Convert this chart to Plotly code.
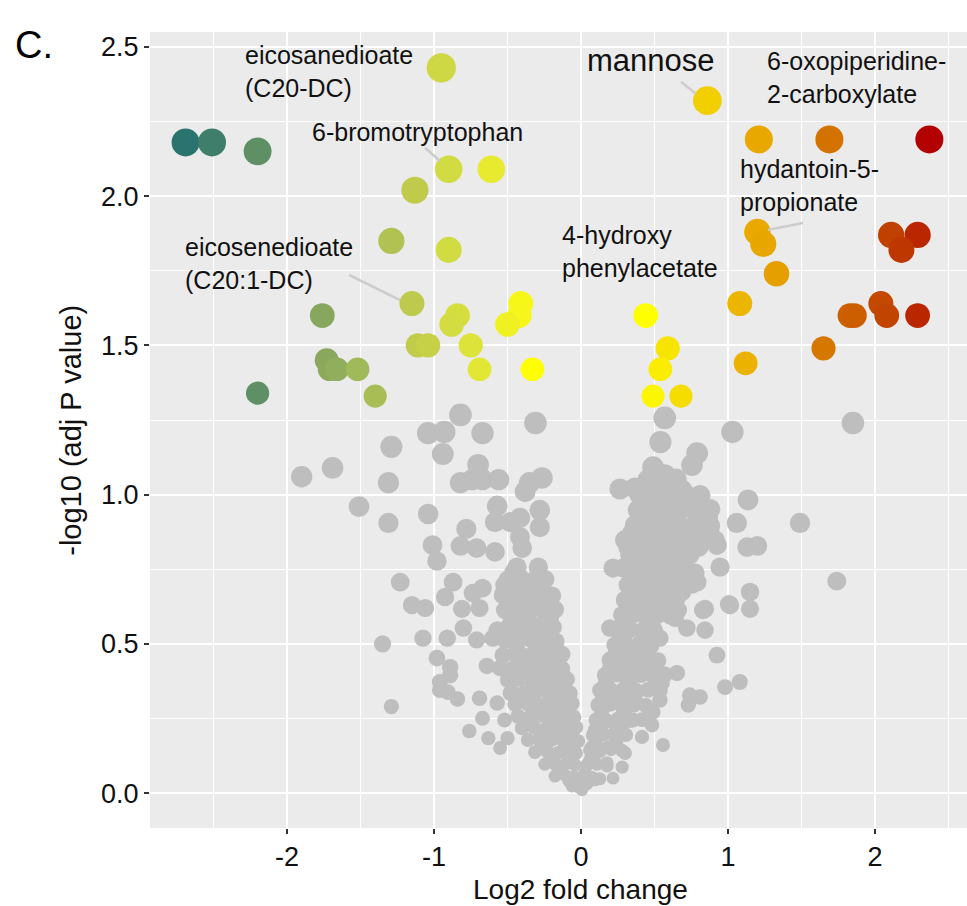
import math
import plotly.graph_objects as go

# ---- significant metabolites: log2 fold change and -log10(adj p) ----
sig_fc = [-2.69, -2.51, -2.20, -2.20, -1.76, -1.73, -1.71, -1.66, -1.52, -1.40,
          -1.29, -1.13, -1.15, -1.11, -1.04, -0.95, -0.90, -0.61, -0.90, -0.84,
          -0.88, -0.75, -0.69, -0.41, -0.42, -0.50, -0.33, 0.44, 0.59, 0.54,
          0.49, 0.68, 0.86, 1.21, 1.69, 2.37, 1.20, 1.24, 1.33, 2.11,
          2.29, 2.18, 1.08, 1.12, 1.65, 1.83, 1.86, 2.04, 2.08, 2.29]
sig_p = [2.18, 2.18, 2.15, 1.34, 1.60, 1.45, 1.42, 1.42, 1.42, 1.33,
         1.85, 2.02, 1.64, 1.50, 1.50, 2.43, 2.09, 2.09, 1.82, 1.60,
         1.57, 1.50, 1.42, 1.64, 1.60, 1.57, 1.42, 1.60, 1.49, 1.42,
         1.33, 1.33, 2.32, 2.19, 2.19, 2.19, 1.88, 1.84, 1.74, 1.87,
         1.87, 1.82, 1.64, 1.44, 1.49, 1.60, 1.60, 1.64, 1.60, 1.60]

# ---- non-significant metabolites (log2 FC, -log10 adj p) ----
grey_left = [(-1.90, 1.06), (-1.69, 1.09), (-1.29, 1.16), (-1.31, 1.04), (-1.51, 0.96),
             (-1.31, 0.905), (-1.04, 0.935), (-1.23, 0.707), (-1.15, 0.63), (-1.06, 0.62),
             (-1.35, 0.50), (-1.29, 0.29), (-0.82, 1.267), (-1.04, 1.206), (-0.93, 1.21),
             (-0.67, 1.206), (-0.94, 1.136), (-0.31, 1.24), (-0.70, 1.10), (-0.82, 1.04),
             (-0.74, 1.05), (-0.67, 1.05), (-0.56, 1.05), (-0.265, 1.056), (-0.35, 1.04),
             (-0.38, 1.01), (-0.57, 0.962), (-0.585, 0.908), (-0.48, 0.908), (-0.415, 0.922),
             (-0.28, 0.948), (-0.28, 0.891), (-0.415, 0.858), (-0.40, 0.821), (-0.78, 0.885),
             (-0.82, 0.828), (-0.71, 0.821), (-0.585, 0.808), (-1.01, 0.831), (-0.98, 0.777),
             (-0.435, 0.757), (-0.29, 0.757), (-0.87, 0.707), (-0.925, 0.657), (-0.67, 0.687),
             (-0.735, 0.67), (-0.52, 0.697), (-0.38, 0.707), (-0.30, 0.67), (-0.435, 0.657),
             (-0.81, 0.617), (-0.69, 0.62), (-0.47, 0.623), (-0.35, 0.613), (-0.245, 0.62),
             (-0.19, 0.556), (-1.075, 0.519), (-0.91, 0.519), (-0.80, 0.553), (-0.71, 0.513),
             (-0.57, 0.546), (-0.60, 0.519), (-0.415, 0.536), (-0.30, 0.536), (-0.435, 0.479),
             (-0.26, 0.489), (-0.156, 0.442), (-0.98, 0.452), (-0.89, 0.422), (-0.89, 0.395),
             (-0.64, 0.426), (-0.96, 0.372), (-0.96, 0.345), (-0.84, 0.315), (-0.905, 0.338),
             (-0.69, 0.318), (-0.57, 0.302), (-0.67, 0.251), (-0.76, 0.208), (-0.63, 0.184),
             (-0.55, 0.151), (-0.50, 0.184), (-0.52, 0.245), (-0.43, 0.385), (-0.48, 0.335)]

grey_left_core = [(-0.497, 0.714), (-0.415, 0.720), (-0.333, 0.709), (-0.245, 0.716),
                  (-0.531, 0.664), (-0.449, 0.668), (-0.361, 0.660), (-0.279, 0.666), (-0.197, 0.661),
                  (-0.517, 0.613), (-0.429, 0.609), (-0.347, 0.618), (-0.259, 0.611), (-0.177, 0.615),
                  (-0.483, 0.563), (-0.401, 0.567), (-0.313, 0.560), (-0.224, 0.565),
                  (-0.517, 0.513), (-0.435, 0.509), (-0.347, 0.517), (-0.259, 0.512), (-0.170, 0.508),
                  (-0.531, 0.462), (-0.449, 0.466), (-0.361, 0.458), (-0.279, 0.463), (-0.197, 0.460), (-0.129, 0.465),
                  (-0.551, 0.419), (-0.469, 0.415), (-0.381, 0.422), (-0.299, 0.417), (-0.211, 0.421), (-0.129, 0.416),
                  (-0.497, 0.379), (-0.415, 0.383), (-0.333, 0.376), (-0.245, 0.380), (-0.163, 0.377), (-0.095, 0.381),
                  (-0.469, 0.338), (-0.388, 0.335), (-0.306, 0.341), (-0.224, 0.336), (-0.143, 0.339), (-0.075, 0.334),
                  (-0.449, 0.298), (-0.367, 0.301), (-0.286, 0.295), (-0.204, 0.299), (-0.122, 0.296), (-0.061, 0.300),
                  (-0.429, 0.258), (-0.347, 0.255), (-0.265, 0.261), (-0.184, 0.256), (-0.109, 0.259), (-0.048, 0.254),
                  (-0.401, 0.218), (-0.320, 0.221), (-0.238, 0.215), (-0.156, 0.219), (-0.088, 0.216), (-0.034, 0.220),
                  (-0.361, 0.178), (-0.279, 0.175), (-0.197, 0.180), (-0.122, 0.176), (-0.061, 0.179), (-0.020, 0.174),
                  (-0.313, 0.137), (-0.231, 0.140), (-0.156, 0.135), (-0.088, 0.138), (-0.034, 0.134),
                  (-0.245, 0.097), (-0.170, 0.094), (-0.102, 0.099), (-0.041, 0.095),
                  (-0.177, 0.057), (-0.109, 0.060), (-0.048, 0.055),
                  (-0.061, 0.023), (-0.020, 0.020),
                  (-0.456, 0.740), (-0.374, 0.688), (-0.292, 0.640), (-0.210, 0.590), (-0.388, 0.588),
                  (-0.476, 0.535), (-0.302, 0.487), (-0.394, 0.440), (-0.238, 0.440), (-0.452, 0.398),
                  (-0.288, 0.356), (-0.410, 0.318), (-0.175, 0.318), (-0.318, 0.278), (-0.150, 0.278),
                  (-0.370, 0.238), (-0.210, 0.238), (-0.277, 0.198), (-0.126, 0.198), (-0.238, 0.158),
                  (-0.104, 0.157), (-0.196, 0.118), (-0.068, 0.116), (-0.137, 0.077), (-0.082, 0.040)]

grey_right = [(0.57, 1.257), (0.54, 1.176), (1.03, 1.21), (0.79, 1.139), (0.755, 1.099),
              (0.49, 1.092), (0.57, 1.066), (0.265, 1.019), (0.367, 1.022), (0.66, 1.019),
              (0.524, 0.982), (0.74, 0.958), (0.42, 0.905), (0.47, 0.942), (0.864, 0.922),
              (1.06, 0.905), (0.62, 0.905), (0.71, 0.871), (0.59, 0.858), (0.925, 0.831),
              (0.80, 0.824), (0.32, 0.824), (0.435, 0.824), (0.55, 0.804), (0.66, 0.814),
              (1.136, 0.982), (1.13, 0.824), (0.218, 0.754), (0.286, 0.754), (0.517, 0.754),
              (0.64, 0.781), (0.776, 0.737), (0.946, 0.757), (0.59, 0.714), (0.79, 0.707),
              (0.333, 0.687), (0.45, 0.68), (0.687, 0.674), (0.517, 0.68), (1.014, 0.63),
              (1.15, 0.674), (1.15, 0.617), (0.844, 0.617), (0.354, 0.607), (0.55, 0.613),
              (0.66, 0.613), (0.72, 0.553), (0.844, 0.546), (0.64, 0.586), (0.45, 0.58),
              (0.197, 0.553), (0.30, 0.536), (0.537, 0.519), (0.45, 0.536), (0.28, 0.503),
              (0.925, 0.462), (0.333, 0.456), (0.28, 0.422), (0.415, 0.422), (0.653, 0.402),
              (0.49, 0.402), (0.55, 0.369), (0.98, 0.355), (1.08, 0.372), (0.74, 0.328),
              (0.81, 0.322), (0.73, 0.295), (0.177, 0.362), (0.143, 0.335), (0.32, 0.369),
              (0.231, 0.322), (0.367, 0.322), (0.537, 0.312), (0.49, 0.271), (0.15, 0.288),
              (0.30, 0.278), (0.143, 0.251), (0.231, 0.235), (0.354, 0.245), (0.483, 0.228),
              (0.095, 0.211), (0.231, 0.201), (0.415, 0.188), (0.558, 0.161), (0.075, 0.154),
              (0.184, 0.154), (0.30, 0.134), (0.061, 0.111), (0.177, 0.101), (0.28, 0.087),
              (0.218, 0.05), (0.027, 0.067), (0.095, 0.044), (0.007, 0.01), (1.85, 1.24),
              (0.687, 1.015), (1.49, 0.905), (1.20, 0.828), (1.74, 0.71), (1.007, 0.633),
              (0.83, 0.613)]

grey_right_core = [(0.456, 1.049), (0.551, 1.045), (0.646, 1.052),
                   (0.401, 0.999), (0.503, 1.003), (0.605, 0.996), (0.707, 1.001), (0.810, 0.997),
                   (0.388, 0.948), (0.483, 0.952), (0.578, 0.945), (0.673, 0.950), (0.776, 0.946), (0.878, 0.951),
                   (0.367, 0.898), (0.469, 0.894), (0.571, 0.901), (0.673, 0.896), (0.776, 0.899), (0.878, 0.895),
                   (0.299, 0.848), (0.401, 0.851), (0.503, 0.845), (0.605, 0.849), (0.707, 0.846), (0.810, 0.850), (0.912, 0.847),
                   (0.333, 0.798), (0.435, 0.795), (0.537, 0.801), (0.639, 0.796), (0.741, 0.799),
                   (0.347, 0.747), (0.435, 0.750), (0.524, 0.744), (0.619, 0.748), (0.714, 0.745),
                   (0.320, 0.697), (0.401, 0.700), (0.483, 0.694), (0.571, 0.698), (0.660, 0.695), (0.755, 0.699),
                   (0.299, 0.647), (0.388, 0.644), (0.469, 0.650), (0.558, 0.645), (0.646, 0.648),
                   (0.279, 0.597), (0.361, 0.600), (0.442, 0.594), (0.524, 0.598), (0.605, 0.595),
                   (0.252, 0.546), (0.333, 0.549), (0.415, 0.543), (0.497, 0.547),
                   (0.231, 0.496), (0.313, 0.493), (0.395, 0.499), (0.476, 0.494),
                   (0.197, 0.446), (0.279, 0.449), (0.361, 0.443), (0.442, 0.447), (0.524, 0.444),
                   (0.163, 0.395), (0.245, 0.398), (0.327, 0.392), (0.408, 0.396), (0.490, 0.393), (0.571, 0.397),
                   (0.129, 0.345), (0.211, 0.342), (0.293, 0.348), (0.374, 0.343), (0.456, 0.346), (0.537, 0.344),
                   (0.116, 0.295), (0.197, 0.298), (0.279, 0.292), (0.361, 0.296), (0.442, 0.293),
                   (0.102, 0.245), (0.177, 0.242), (0.252, 0.248), (0.333, 0.243), (0.415, 0.246),
                   (0.082, 0.194), (0.156, 0.197), (0.231, 0.191), (0.306, 0.195),
                   (0.061, 0.144), (0.129, 0.141), (0.204, 0.147), (0.279, 0.142),
                   (0.041, 0.094), (0.109, 0.097), (0.177, 0.091),
                   (0.020, 0.050), (0.075, 0.053), (0.129, 0.048),
                   (0.520, 1.020), (0.440, 0.925), (0.620, 0.925), (0.830, 0.925), (0.350, 0.873),
                   (0.560, 0.872), (0.760, 0.872), (0.390, 0.772), (0.590, 0.772), (0.360, 0.722),
                   (0.540, 0.722), (0.440, 0.672), (0.610, 0.672), (0.330, 0.622), (0.500, 0.622),
                   (0.290, 0.572), (0.460, 0.572), (0.270, 0.520), (0.430, 0.520), (0.240, 0.470),
                   (0.400, 0.470), (0.200, 0.420), (0.370, 0.420), (0.170, 0.370), (0.330, 0.370),
                   (0.150, 0.320), (0.320, 0.320), (0.140, 0.270), (0.290, 0.270), (0.120, 0.220),
                   (0.270, 0.220), (0.100, 0.170), (0.240, 0.170), (0.080, 0.120), (0.040, 0.030)]

# ---- labelled metabolites ----
label_text = ["eicosanedioate<br>(C20-DC)", "6-bromotryptophan", "eicosenedioate<br>(C20:1-DC)",
              "mannose", "6-oxopiperidine-<br>2-carboxylate", "hydantoin-5-<br>propionate",
              "4-hydroxy<br>phenylacetate"]

# colour ramp along log2 fold change (teal -> yellow -> dark red)
ramp_fc = [-2.69, -2.51, -2.20, -1.73, -1.52, -1.29, -1.13, -0.90, -0.61, -0.42,
           -0.33, 0.44, 0.59, 0.86, 1.20, 1.33, 1.69, 2.11, 2.29, 2.37]
ramp_col = ["#2a736e", "#3e7e6a", "#5e8f65", "#8aa85d", "#a0b959", "#b1c152", "#c0cb4c",
            "#d1db42", "#e8ea30", "#f6f61a", "#ffff00", "#ffff00", "#f7e400", "#f1cf00",
            "#e9a900", "#e5a000", "#d47200", "#c04000", "#ba2600", "#b30000"]

FONT = "Liberation Sans, Arial, Helvetica, sans-serif"


def dot_size(p):
    # point diameter grows with significance (area-proportional)
    return math.sqrt(150 + 290 * p)


grey_all = grey_left + grey_left_core + grey_right + grey_right_core
grey_fc = [pt[0] for pt in grey_all]
grey_p = [pt[1] for pt in grey_all]

cmin, cmax = ramp_fc[0], ramp_fc[-1]
colorscale = [[(v - cmin) / (cmax - cmin), c] for v, c in zip(ramp_fc, ramp_col)]

fig = go.Figure()
fig.add_trace(go.Scatter(
    x=grey_fc, y=grey_p, mode="markers",
    marker=dict(color="#bebebe", opacity=1, size=[dot_size(p) for p in grey_p],
                line=dict(width=0)),
    hoverinfo="skip", showlegend=False))
fig.add_trace(go.Scatter(
    x=sig_fc, y=sig_p, mode="markers",
    marker=dict(color=sig_fc, colorscale=colorscale, cmin=cmin, cmax=cmax, opacity=1,
                size=[dot_size(p) for p in sig_p], line=dict(width=0), showscale=False),
    showlegend=False))

# label placement (data coordinates)
lab_x = [-2.299, -1.112, -2.707, 0.473, 1.252, 1.068, -0.143]
lab_y = [2.418, 2.215, 1.773, 2.455, 2.399, 2.037, 1.816]
lab_anchor = ["left", "center", "left", "center", "left", "left", "left"]
lab_size = [25, 25, 25, 31, 25, 25, 25]

annotations = []
for t, x, y, a, s in zip(label_text, lab_x, lab_y, lab_anchor, lab_size):
    annotations.append(dict(x=x, y=y, xref="x", yref="y", text=t, showarrow=False,
                            xanchor=a, yanchor="middle", align="left",
                            font=dict(family=FONT, size=s, color="#111111")))

# leader segments from labels to their points
segments = [(-1.061, 2.162, -0.959, 2.118),
            (-1.578, 1.736, -1.231, 1.652),
            (0.680, 2.383, 0.782, 2.343),
            (1.510, 1.910, 1.272, 1.887)]
shapes = [dict(type="line", xref="x", yref="y", x0=a, y0=b, x1=c, y1=d,
               line=dict(color="#cccccc", width=2.5), layer="above")
          for a, b, c, d in segments]

# axis titles and panel tag
annotations.append(dict(x=0, y=-0.0995, xref="x", yref="paper", text="Log2 fold change",
                        showarrow=False, xanchor="center", yanchor="bottom",
                        font=dict(family=FONT, size=28, color="#111111")))
annotations.append(dict(x=-0.097, y=0.5, xref="paper", yref="paper", text="-log10 (adj P value)",
                        showarrow=False, textangle=-90, xanchor="center", yanchor="middle",
                        font=dict(family=FONT, size=29, color="#111111")))
annotations.append(dict(x=-0.168, y=1.012, xref="paper", yref="paper", text="C.",
                        showarrow=False, xanchor="left", yanchor="top",
                        font=dict(family=FONT, size=38, color="#000000")))

axis_common = dict(showgrid=True, gridcolor="#ffffff", gridwidth=2.2, zeroline=False,
                   showline=False, ticks="outside", ticklen=5, tickwidth=2,
                   tickcolor="#333333", tickfont=dict(family=FONT, size=27, color="#111111"))

fig.update_layout(
    width=967, height=906,
    margin=dict(l=150, r=0, t=32, b=78),
    paper_bgcolor="#ffffff", plot_bgcolor="#ebebeb",
    xaxis=dict(range=[-2.932, 2.626], tickmode="array", tickvals=[-2, -1, 0, 1, 2],
               ticktext=["-2", "-1", "0", "1", "2"],
               minor=dict(tickvals=[-2.5, -1.5, -0.5, 0.5, 1.5, 2.5], showgrid=True,
                          gridcolor="#ffffff", gridwidth=1.1, ticks=""),
               **axis_common),
    yaxis=dict(range=[-0.117, 2.55], tickmode="array", tickvals=[0, 0.5, 1, 1.5, 2, 2.5],
               ticktext=["0.0", "0.5", "1.0", "1.5", "2.0", "2.5"],
               minor=dict(tickvals=[0.25, 0.75, 1.25, 1.75, 2.25], showgrid=True,
                          gridcolor="#ffffff", gridwidth=1.1, ticks=""),
               **axis_common),
    annotations=annotations,
    shapes=shapes,
)

fig.write_html("out.html")
